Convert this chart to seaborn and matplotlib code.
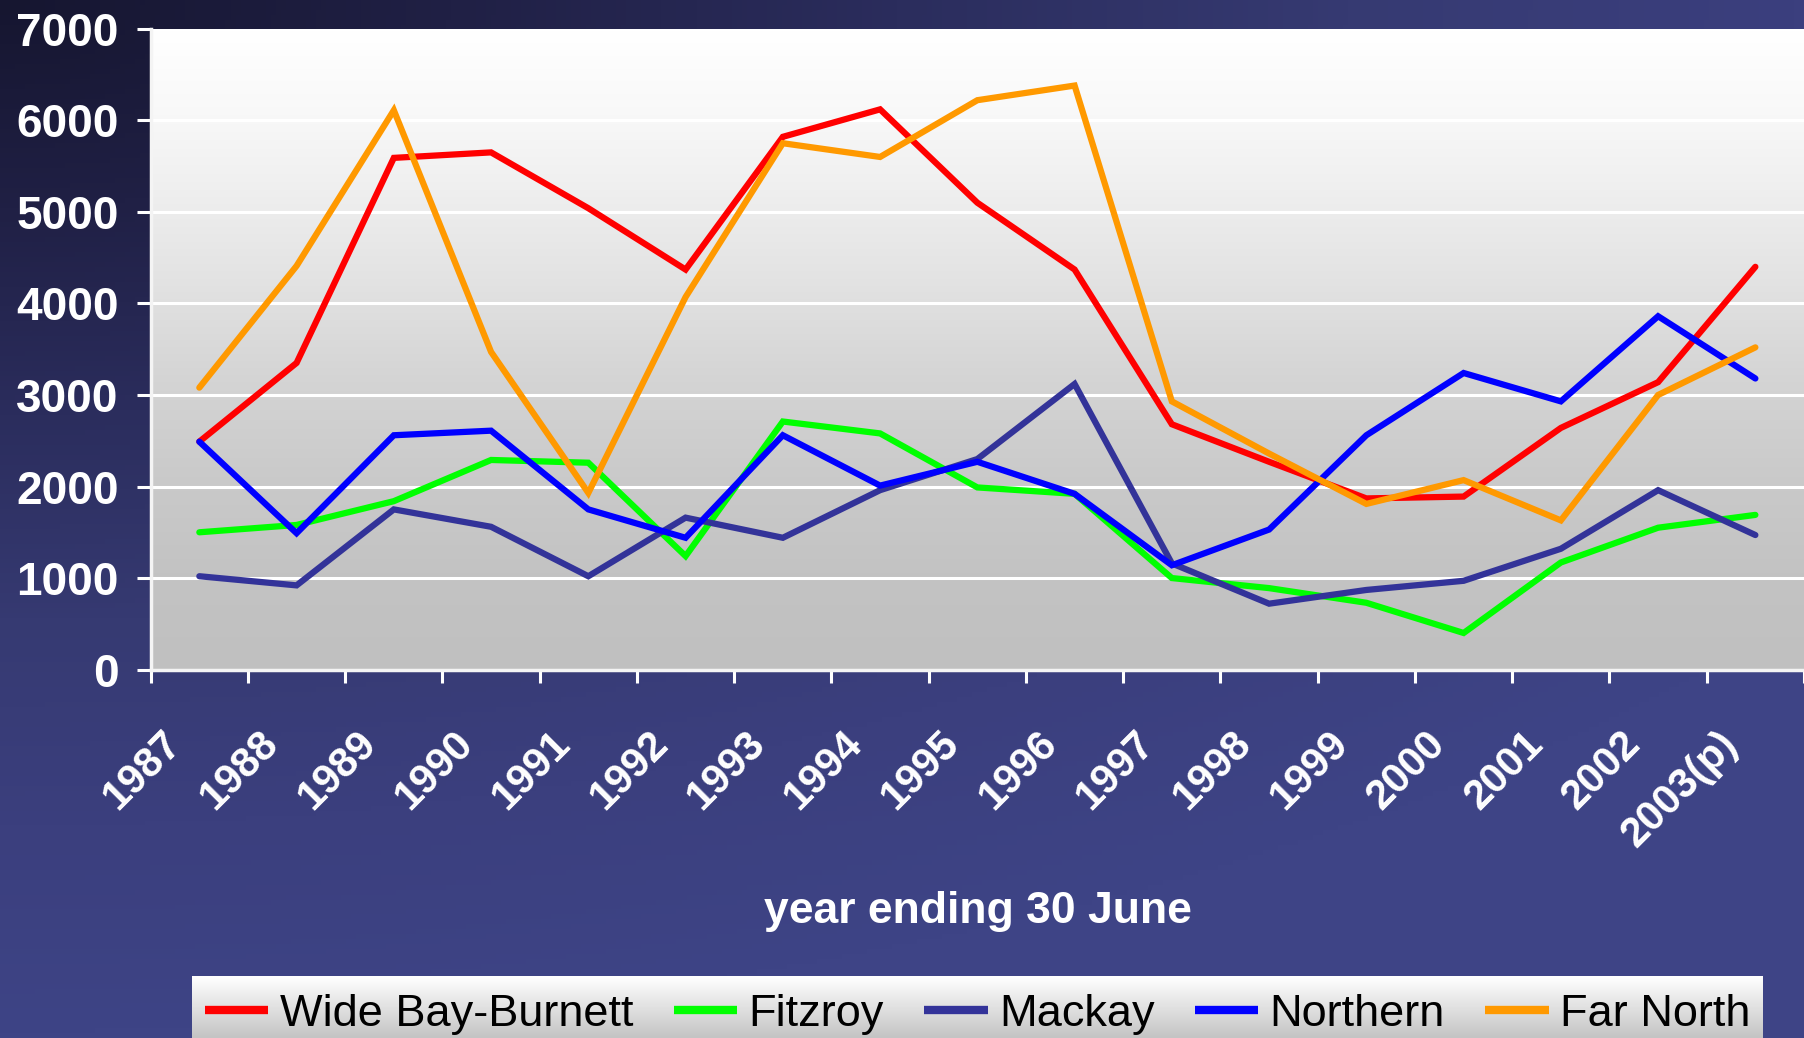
import numpy as np
import pandas as pd
import matplotlib
matplotlib.use("Agg")
import matplotlib.pyplot as plt
import matplotlib.transforms as mtransforms
from matplotlib.colors import LinearSegmentedColormap
import seaborn as sns

years = ["1987", "1988", "1989", "1990", "1991", "1992", "1993", "1994", "1995",
         "1996", "1997", "1998", "1999", "2000", "2001", "2002", "2003(p)"]
wide_bay_burnett = [2490, 3350, 5590, 5650, 5040, 4370, 5820, 6120, 5100,
                    4370, 2680, 2270, 1870, 1890, 2640, 3140, 4400]
fitzroy = [1500, 1580, 1840, 2290, 2260, 1240, 2710, 2580, 1990,
           1920, 1000, 890, 730, 400, 1170, 1550, 1690]
mackay = [1020, 920, 1750, 1560, 1020, 1660, 1440, 1960, 2300,
          3120, 1160, 720, 870, 970, 1320, 1960, 1470]
northern = [2490, 1490, 2560, 2610, 1750, 1440, 2560, 2010, 2270,
            1920, 1140, 1530, 2560, 3240, 2930, 3860, 3180]
far_north = [3080, 4410, 6110, 3470, 1930, 4070, 5750, 5600, 6220,
             6380, 2930, 2360, 1810, 2070, 1630, 3000, 3520]
series_names = ["Wide Bay-Burnett", "Fitzroy", "Mackay", "Northern", "Far North"]
series_colors = ["#ff0000", "#00ff00", "#333399", "#0000ff", "#ff9900"]
y_ticks = [0, 1000, 2000, 3000, 4000, 5000, 6000, 7000]
x_title = "year ending 30 June"

rows = []
for name, vals in zip(series_names, [wide_bay_burnett, fitzroy, mackay, northern, far_north]):
    for i, v in enumerate(vals):
        rows.append({"idx": i, "value": v, "region": name})
df = pd.DataFrame(rows)

sns.set_theme(style="white")
plt.rcParams["font.family"] = ["Liberation Sans", "DejaVu Sans"]

W, H = 1804, 1038
fig = plt.figure(figsize=(W / 100, H / 100), dpi=100)

# figure background gradient (dark top-left to lighter navy)
bg = fig.add_axes([0, 0, 1, 1], zorder=-10)
xx, yy = np.meshgrid(np.linspace(0, 1, 360), np.linspace(0, 1, 210))
t = np.clip(np.sqrt((0.8 * xx) ** 2 + yy ** 2), 0, 1)
bg_cmap = LinearSegmentedColormap.from_list(
    "bg", [(0.0, "#161630"), (0.2, "#202045"), (0.4, "#2b2d5d"),
           (0.6, "#363a72"), (0.8, "#3b3f7e"), (1.0, "#3e4486")])
bg.imshow(t, cmap=bg_cmap, aspect="auto", extent=(0, 1, 1, 0), vmin=0, vmax=1)
bg.set_xlim(0, 1)
bg.set_ylim(1, 0)
bg.axis("off")

left = 150.7 / W
bottom = 1 - 669.6 / H
top = 1 - 28.8 / H
ax = fig.add_axes([left, bottom, 1 - left, top - bottom])
ax.patch.set_visible(False)

plot_cmap = LinearSegmentedColormap.from_list(
    "plot", [(0.0, "#c0c0c0"), (0.15, "#c3c3c3"), (0.3, "#cacaca"), (0.45, "#d4d4d4"),
             (0.6, "#e2e2e2"), (0.75, "#efefef"), (0.88, "#f9f9f9"), (1.0, "#ffffff")])
grad = np.linspace(1, 0, 256)[:, None]
ax.imshow(grad, cmap=plot_cmap, aspect="auto", extent=(0, 1, 0, 1),
          transform=ax.transAxes, zorder=-1, vmin=0, vmax=1)

sns.lineplot(data=df, x="idx", y="value", hue="region", hue_order=series_names,
             palette=dict(zip(series_names, series_colors)), linewidth=4.5,
             ax=ax, legend=True, zorder=3)
for ln in ax.get_lines():
    ln.set_solid_capstyle("round")
    ln.set_solid_joinstyle("miter")

handles, labels = ax.get_legend_handles_labels()
if ax.get_legend() is not None:
    ax.get_legend().remove()

ax.set_xlim(-0.5, 16.5)
ax.set_ylim(0, 7000)
ax.set_yticks(y_ticks)
ax.set_yticklabels([str(v) for v in y_ticks])
ax.yaxis.grid(True, color="white", linewidth=2.2)
ax.xaxis.grid(False)
ax.set_axisbelow(True)

for side in ["top", "right"]:
    ax.spines[side].set_visible(False)
for side in ["left", "bottom"]:
    ax.spines[side].set_color("#f4f4f4")
    ax.spines[side].set_linewidth(2.5)

ax.tick_params(axis="y", colors="white", labelsize=33, length=10, width=2.2, pad=13,
               direction="out", left=True)
for lab in ax.get_yticklabels():
    lab.set_fontweight("bold")

ax.set_xticks(np.arange(len(years)))
ax.set_xticklabels(years, rotation=45, ha="right", va="center", rotation_mode="anchor",
                   fontsize=30, fontweight="bold", color="white")
ax.set_xticks(np.arange(-0.5, 16.6, 1.0), minor=True)
ax.tick_params(axis="x", which="major", length=0, pad=49)
ax.tick_params(axis="x", which="minor", length=9, width=2.2, color="white",
               direction="out", bottom=True)
offset = mtransforms.ScaledTranslation(-0.24, 0, fig.dpi_scale_trans)
for lab in ax.get_xticklabels():
    lab.set_transform(lab.get_transform() + offset)

ax.set_xlabel("")
ax.set_ylabel("")

fig.text(0.542, 1 - 912 / H, x_title, ha="center", va="center", fontsize=32,
         fontweight="bold", color="white")

# legend box with gradient
lx0, lx1 = 192 / W, 1763 / W
lh = (1038 - 976) / H
lax = fig.add_axes([lx0, 0, lx1 - lx0, lh], zorder=5)
lgrad = np.linspace(1, 0, 64)[:, None]
lax.imshow(lgrad, cmap=LinearSegmentedColormap.from_list("lg", ["#c4c4c4", "#ffffff"]),
           aspect="auto", extent=(0, 1, 0, 1), vmin=0, vmax=1)
lax.set_xlim(0, 1)
lax.set_ylim(0, 1)
lax.axis("off")

for h in handles:
    h.set_linewidth(6)
    h.set_solid_capstyle("butt")
leg = fig.legend(handles, labels, ncol=5, loc="center", bbox_to_anchor=(0.542, 0.023),
                 frameon=False, fontsize=32.5, handlelength=1.4, handletextpad=0.25,
                 columnspacing=0.9, borderpad=0)
leg.set_zorder(10)
for txt in leg.get_texts():
    txt.set_color("black")

fig.savefig("out.png", dpi=100)
